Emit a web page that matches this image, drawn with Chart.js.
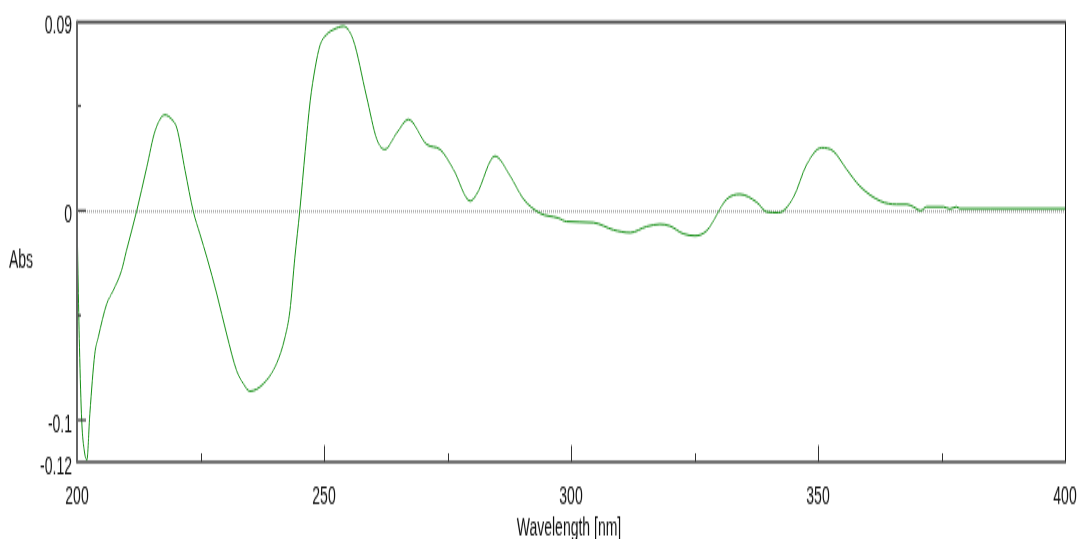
<!DOCTYPE html>
<html>
<head>
<meta charset="utf-8">
<script src="https://cdn.jsdelivr.net/npm/chart.js@4"></script>
<style>
  html, body { margin: 0; padding: 0; background: #fff; overflow: hidden; }
</style>
</head>
<body>
<!-- the reference is vertically stretched, so the canvas is drawn short and scaled up -->
<canvas id="c" width="1078" height="308" style="display:block;width:1078px;height:539px"></canvas>
<script>
// Spectrum
const wavelength = [200, 200.2, 200.5, 200.95, 201.5, 202, 202.6, 203.6, 204.3, 206, 207.3, 209, 210, 212.1,
  214.1, 215.8, 217.8, 219.2, 220.2, 221.9, 223.5, 224.9, 226.3, 228.3, 230.3, 232.3, 233.7, 235,
  237.7, 240.4, 242.1, 243.1, 244.1, 245.1, 246.2, 247.2, 248.2, 249.2, 250.5, 252, 253.9, 255.9,
  258.6, 260.7, 262.3, 264.7, 267.1, 270.8, 273.5, 276.2, 279.6, 280.9, 284.6, 287.7, 290.3, 293.7,
  297.4, 299.1, 304.5, 308.6, 312, 315.3, 318, 320, 322.7, 325.1, 327.5, 331.5, 334.2, 337.6,
  339.6, 342, 345, 347.7, 350.7, 353.1, 355.8, 358.5, 362.6, 365.9, 368, 369.3, 370.8, 372,
  375.4, 376.7, 378, 378.7, 385, 400];
const absorbance = [-0.002, -0.03, -0.065, -0.1, -0.115, -0.119, -0.097, -0.0684, -0.0605, -0.0446, -0.0383, -0.0287, -0.0192, 0,
  0.0205, 0.038, 0.0457, 0.0435, 0.0395, 0.0189, 0, -0.0113, -0.0224, -0.0398, -0.059, -0.0763, -0.0827, -0.0862,
  -0.0827, -0.073, -0.0605, -0.0478, -0.0224, 0, 0.0284, 0.0522, 0.068, 0.079, 0.084, 0.0865, 0.088, 0.0816,
  0.0546, 0.034, 0.0292, 0.037, 0.0435, 0.0316, 0.0292, 0.0197, 0.0046, 0.0078, 0.026, 0.0165, 0.0058, -0.0012,
  -0.0035, -0.0052, -0.0057, -0.0092, -0.0105, -0.0076, -0.0065, -0.0073, -0.011, -0.012, -0.0095, 0.0054, 0.0078, 0.004,
  -0.0006, -0.001, 0.0062, 0.022, 0.03, 0.0284, 0.0197, 0.0116, 0.0046, 0.003, 0.003, 0.0018, 0, 0.0018,
  0.0018, 0.0008, 0.0018, 0.001, 0.001, 0.001];

const xTicks = [200, 225, 250, 275, 300, 325, 350, 375, 400];
const xLabels = [200, 250, 300, 350, 400];
const yTicks = [-0.12, -0.1, -0.05, 0, 0.05, 0.09];
const yLabels = [-0.12, -0.1, 0, 0.09];
const yLongTicks = [-0.1, 0];

const FONT = "'Liberation Sans', Arial, sans-serif";

const points = wavelength.map((w, i) => ({x: w, y: absorbance[i]}));

// frame, zero line, inward tick marks, axis titles
const decor = {
  id: 'decor',
  beforeDatasetsDraw(chart) {
    const {ctx, chartArea: a, scales: {y}} = chart;
    ctx.save();
    const y0 = y.getPixelForValue(0);
    ctx.strokeStyle = '#777';
    ctx.lineWidth = 1;
    ctx.setLineDash([1, 1]);
    ctx.beginPath();
    ctx.moveTo(a.left, y0 + 0.5);
    ctx.lineTo(a.right, y0 + 0.5);
    ctx.stroke();
    ctx.restore();
  },
  afterDraw(chart) {
    const {ctx, chartArea: a, scales: {x, y}} = chart;
    ctx.save();
    ctx.strokeStyle = '#333';
    ctx.lineWidth = 1;
    xTicks.forEach(v => {
      if (v === 200 || v === 400) return;
      const px = Math.round(x.getPixelForValue(v)) + 0.5;
      const len = xLabels.includes(v) ? 9.5 : 5;
      ctx.beginPath();
      ctx.moveTo(px, a.bottom);
      ctx.lineTo(px, a.bottom - len);
      ctx.stroke();
    });
    ctx.lineWidth = 1.2;
    yTicks.forEach(v => {
      if (v === -0.12 || v === 0.09) return;
      const py = y.getPixelForValue(v);
      const len = yLongTicks.includes(v) ? 9 : 4;
      ctx.beginPath();
      ctx.moveTo(a.left, py);
      ctx.lineTo(a.left + len, py);
      ctx.stroke();
    });
    // right border
    ctx.strokeStyle = '#111';
    ctx.lineWidth = 1;
    ctx.beginPath();
    ctx.moveTo(a.right + 0.5, a.top);
    ctx.lineTo(a.right + 0.5, a.bottom);
    ctx.stroke();
    // top and bottom
    ctx.strokeStyle = '#444';
    ctx.lineWidth = 1.7;
    ctx.beginPath();
    ctx.moveTo(a.left, a.top);
    ctx.lineTo(a.right + 1, a.top);
    ctx.moveTo(a.left, a.bottom);
    ctx.lineTo(a.right + 1, a.bottom);
    ctx.stroke();
    // left axis
    ctx.strokeStyle = '#666';
    ctx.lineWidth = 2;
    ctx.beginPath();
    ctx.moveTo(a.left, a.top - 0.8);
    ctx.lineTo(a.left, a.bottom + 0.8);
    ctx.stroke();

    ctx.fillStyle = '#111';
    ctx.font = '14px ' + FONT;
    ctx.textBaseline = 'alphabetic';
    ctx.textAlign = 'left';
    ctx.fillText('Abs', 9, 153);
    ctx.textAlign = 'center';
    ctx.fillText('Wavelength [nm]', 569, 305.5);
    ctx.restore();
  }
};

new Chart(document.getElementById('c'), {
  type: 'line',
  data: {
    datasets: [{
      data: points,
      borderColor: '#158f15',
      borderWidth: 1,
      pointRadius: 0,
      fill: false,
      cubicInterpolationMode: 'monotone'
    }]
  },
  options: {
    responsive: false,
    animation: false,
    events: [],
    layout: { padding: { left: 0, right: 13, top: 12.6, bottom: 0 } },
    plugins: { legend: { display: false }, tooltip: { enabled: false } },
    scales: {
      x: {
        type: 'linear',
        min: 200, max: 400,
        afterFit(s) { s.height = 44; s.paddingLeft = 0; s.paddingRight = 0; },
        afterBuildTicks(s) { s.ticks = xTicks.map(v => ({value: v})); },
        grid: { display: false, drawTicks: false },
        border: { display: false },
        ticks: {
          autoSkip: false, maxRotation: 0,
          padding: 11.5,
          color: '#111',
          font: { family: FONT, size: 14 },
          callback: v => xLabels.includes(v) ? String(v) : ''
        }
      },
      y: {
        min: -0.12, max: 0.09,
        afterFit(s) { s.width = 77; s.paddingTop = 0; s.paddingBottom = 0; },
        afterBuildTicks(s) { s.ticks = yTicks.map(v => ({value: v})); },
        grid: { display: false, drawTicks: false },
        border: { display: false },
        ticks: {
          autoSkip: false,
          padding: 5,
          labelOffset: 3,
          color: '#111',
          font: { family: FONT, size: 14 },
          callback: v => yLabels.includes(v) ? String(v) : ''
        }
      }
    }
  },
  plugins: [decor]
});
</script>
</body>
</html>
